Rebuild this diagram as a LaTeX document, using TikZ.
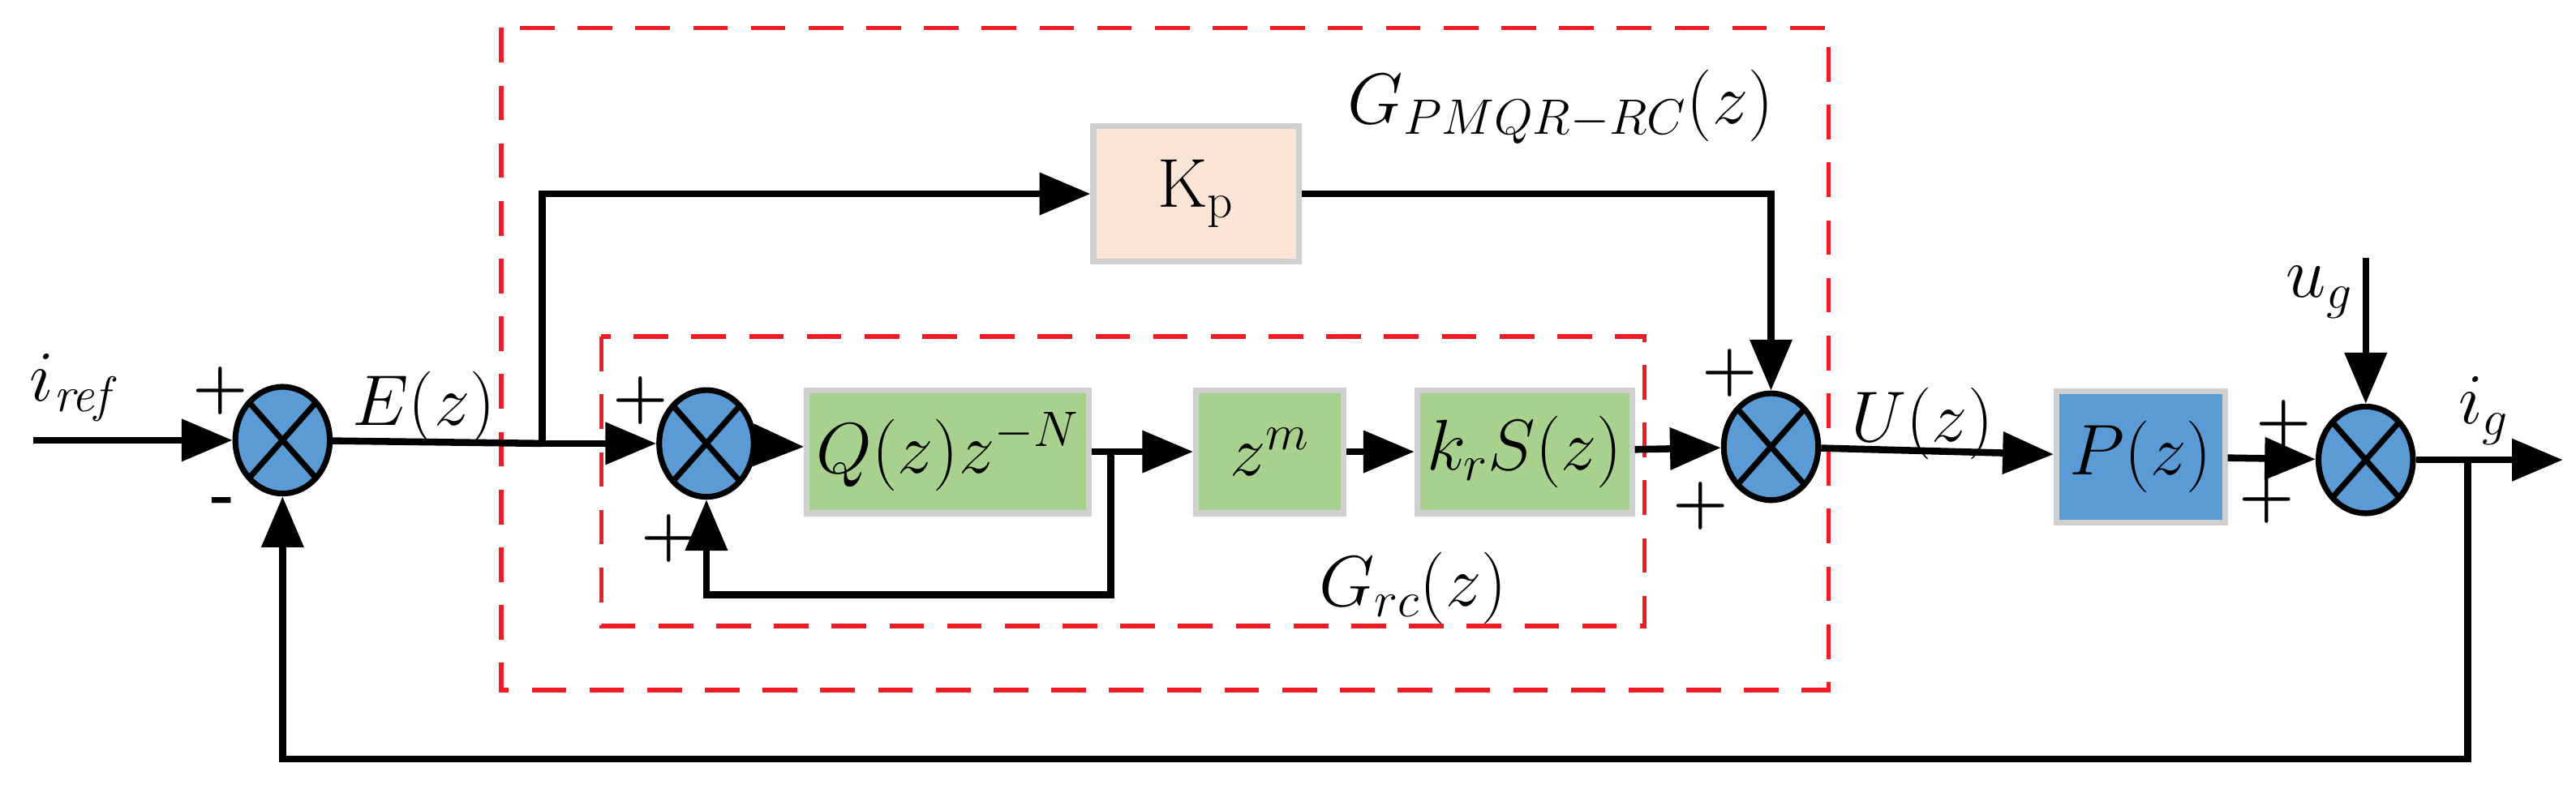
\documentclass[tikz,border=0pt]{standalone}
\usepackage{xcolor}
\usetikzlibrary{arrows.meta,shapes.geometric}
\definecolor{sumblue}{HTML}{5B9BD5}
\definecolor{qgreen}{HTML}{A9D18E}
\definecolor{kpbeige}{HTML}{FBE5D6}
\definecolor{boxgray}{HTML}{D0D0D0}
\definecolor{dashred}{HTML}{EE1C25}
\tikzset{
  sumj/.style={ellipse, draw=black, line width=2pt, fill=sumblue, minimum width=1.15cm, minimum height=1.3cm,
    path picture={\draw[line width=2pt] (path picture bounding box.north west) -- (path picture bounding box.south east)
      (path picture bounding box.north east) -- (path picture bounding box.south west);}},
  blk/.style={draw=boxgray, line width=2pt, fill=qgreen, minimum width=2.8cm, minimum height=1.5cm, font=\fontsize{24}{28}\selectfont},
  sig/.style={line width=2.4pt, -{Triangle[length=0.62cm,width=0.5cm]}},
  wire/.style={line width=2.4pt},
  frame/.style={dashred, line width=1.6pt, dash pattern=on 12pt off 8pt},
  sgn/.style={font=\fontsize{22}{24}\selectfont\bfseries},
  lbl/.style={font=\fontsize{24}{28}\selectfont}
}
\begin{document}
\begin{tikzpicture}[x=0.02cm,y=-0.02cm]
  \useasboundingbox (0,0) rectangle (1568,480);
  % frames
  \draw[frame] (305,17) rectangle (1113,420);
  \draw[frame] (366,205) rectangle (1001,381);
  % junctions and blocks
  \node[sumj] (s1) at (172,268) {};
  \node[sumj] (s2) at (430,270) {};
  \node[sumj] (s3) at (1078,272) {};
  \node[sumj] (s4) at (1440,280) {};
  \node[blk, fill=kpbeige, minimum width=2.5cm, minimum height=1.65cm] (kp) at (728,118) {K$_{\mathrm{p}}$};
  \node[blk] (q) at (577,275) {$Q(z)z^{-N}$};
  \node[blk, minimum width=1.8cm] (zm) at (773,275) {$z^{m}$};
  \node[blk, minimum width=2.35cm] (ks) at (928,275) {$k_rS(z)$};
  \node[blk, fill=sumblue, minimum width=2.05cm, minimum height=1.6cm] (pz) at (1303,278) {$P(z)$};
  \coordinate (in) at (20,268);
  \coordinate (e) at (330,270);
  \coordinate (qb) at (676,275);
  \coordinate (ug) at (1440,157);
  \coordinate (out) at (1560,280);
  \coordinate (ig) at (1502,280);
  % connections
  \draw[sig] (in) -- (s1);
  \draw[wire] (s1) -- (e);
  \draw[sig] (e) -- (s2);
  \draw[sig] (e) |- (kp);
  \draw[sig] (s2) -- (q);
  \draw[sig] (q) -- (zm);
  \draw[sig] (zm) -- (ks);
  \draw[sig] (ks) -- (s3);
  \draw[sig] (kp) -| (s3);
  \draw[sig] (qb) |- (430,362) -- (s2);
  \draw[sig] (s3) -- (pz);
  \draw[sig] (pz) -- (s4);
  \draw[sig] (ug) -- (s4);
  \draw[sig] (s4) -- (out);
  \draw[sig] (ig) |- (172,462) -- (s1);
  % labels
  \node[lbl] at (46,236) {$i_{\mathit{ref}}$};
  \node[lbl] at (258,248) {$E(z)$};
  \node[lbl] at (1170,258) {$U(z)$};
  \node[lbl] at (1412,178) {$u_g$};
  \node[lbl] at (1512,250) {$i_g$};
  \node[lbl] at (950,65) {$G_{PMQR-RC}(z)$};
  \node[lbl] at (860,358) {$G_{rc}(z)$};
  \node[sgn] at (134,238) {+};
  \node[sgn] at (136,308) {-};
  \node[sgn] at (390,244) {+};
  \node[sgn] at (407,328) {+};
  \node[sgn] at (1053,227) {+};
  \node[sgn] at (1035,308) {+};
  \node[sgn] at (1380,304) {+};
  \node[sgn] at (1390,258) {+};
\end{tikzpicture}
\end{document}
